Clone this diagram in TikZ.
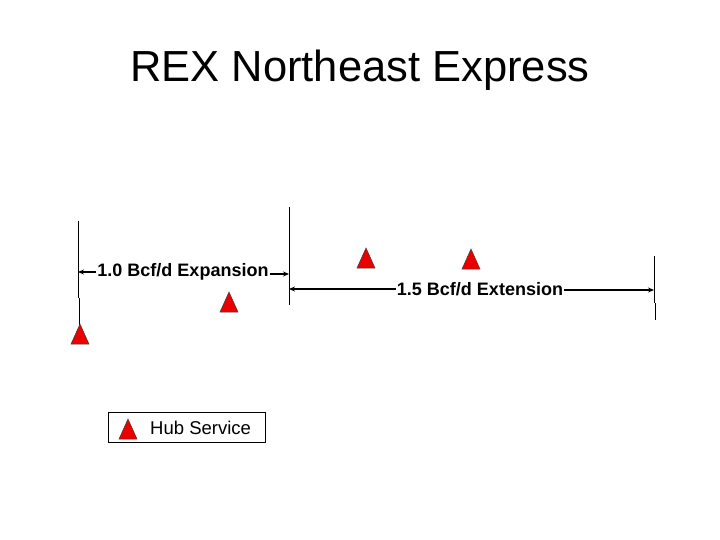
\documentclass[tikz,border=0pt]{standalone}
\usepackage{fontspec}
\setmainfont{Liberation Sans}
\usetikzlibrary{arrows.meta}
\tikzset{
  vline/.style={draw=black, line width=0.8pt},
  arr/.style={draw=black, line width=1.4pt, -{Stealth[length=6pt,width=5pt]}},
  lbl/.style={font=\fontsize{18}{20}\selectfont\bfseries, inner sep=1pt},
  hub/.pic={\filldraw[fill=red!92!black, draw=black!75, line width=0.5pt] (-9,10) -- (0,-10) -- (9,10) -- cycle;}
}
\begin{document}
\begin{tikzpicture}[x=1pt,y=-1pt]
\useasboundingbox[fill=white] (0,0) rectangle (720,540);
\node[font=\fontsize{43.5}{48}\selectfont] (title) at (360,70) {REX Northeast Express};
% vertical boundary lines
\draw[vline] (78,221) -- (78,298);
\draw[vline] (79,298) -- (79,325);
\draw[vline] (289,207) -- (289,305);
\draw[vline] (654,256) -- (654,303);
\draw[vline] (655,303) -- (655,320);
% boundary points
\coordinate (a1) at (78,272);
\coordinate (a2) at (289,274);
\coordinate (b1) at (289,289);
\coordinate (b2) at (654,290);
% labels
\node[lbl] (exp) at (183,272) {1.0 Bcf/d Expansion};
\node[lbl] (ext) at (480,289) {1.5 Bcf/d Extension};
\draw[arr] (exp.west) -- (a1);
\draw[arr] (exp.east |- a2) -- (a2);
\draw[arr] (ext.west) -- (b1);
\draw[arr] (ext.east |- b2) -- (b2);
% hubs
\pic at (80,334) {hub};
\pic at (229,302) {hub};
\pic at (366,258) {hub};
\pic at (471,259) {hub};
% legend
\node[draw=black, line width=0.8pt, minimum width=157pt, minimum height=30pt, inner sep=0pt] (leg) at (186.5,427) {};
\pic at (128,429) {hub};
\node[font=\fontsize{18.5}{20}\selectfont, anchor=west, inner sep=0pt] (hubtxt) at (150,428) {Hub Service};
\end{tikzpicture}
\end{document}
